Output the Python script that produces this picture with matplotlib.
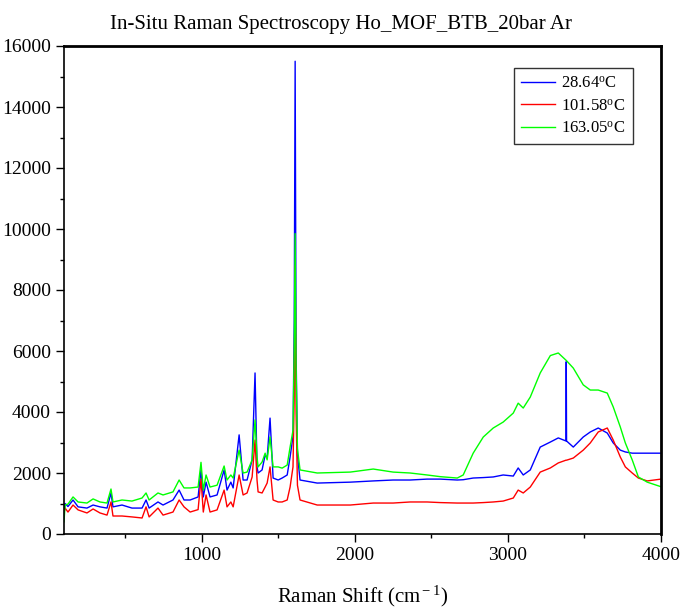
import numpy as np
import matplotlib
matplotlib.use('Agg')
import matplotlib.pyplot as plt
from matplotlib.ticker import MultipleLocator

plt.rcParams['font.family'] = ['Liberation Serif', 'DejaVu Serif']
plt.rcParams['mathtext.fontset'] = 'custom'
plt.rcParams['mathtext.rm'] = 'Liberation Serif'
plt.rcParams['mathtext.it'] = 'Liberation Serif:italic'

# Raman shift (cm-1)
shift = [100, 107, 126, 159, 192, 250, 290, 335, 381, 407, 420, 479, 544, 610,
         636, 656, 714, 747, 812, 852, 884, 924, 976, 995, 1010, 1028, 1054,
         1100, 1146, 1165, 1190, 1205, 1244, 1270, 1296, 1329, 1348, 1361,
         1368, 1394, 1414, 1427, 1446, 1466, 1499, 1525, 1558, 1577, 1596,
         1604, 1610, 1616, 1625, 1642, 1754, 1970, 2120, 2250, 2361, 2472,
         2558, 2669, 2708, 2773, 2839, 2904, 2969, 3035, 3067, 3100, 3146,
         3211, 3277, 3329, 3379, 3381, 3383, 3427, 3492, 3538, 3590, 3649,
         3688, 3734, 3767, 3812, 3852, 3910, 4000]

t_28 = [650, 1000, 900, 1115, 890, 850, 950, 890, 850, 1345, 890, 950, 850, 850,
        1115, 850, 1050, 950, 1115, 1440, 1115, 1115, 1215, 2100, 1215, 1700, 1215,
        1280, 2100, 1440, 1700, 1510, 3250, 1770, 1770, 2430, 5280, 2200,
        2000, 2100, 2590, 2490, 3800, 1835, 1770, 1835, 1935, 2525, 3200,
        7000, 15500, 6000, 2600, 1770, 1670, 1700, 1740, 1770, 1770, 1800,
        1800, 1770, 1780, 1835, 1850, 1870, 1935, 1900, 2165, 1935, 2100,
        2850, 3015, 3150, 3050, 5650, 3050, 2850, 3180, 3345, 3475, 3310,
        2985, 2750, 2690, 2650, 2650, 2650, 2650]

t_101 = [700, 850, 720, 950, 790, 690, 820, 690, 620, 1050, 590, 590, 560, 525,
         890, 560, 850, 620, 720, 1115, 890, 720, 800, 1800, 720, 1280, 720,
         790, 1440, 890, 1050, 890, 1935, 1280, 1345, 1870, 3080, 1770,
         1380, 1345, 1540, 1670, 2200, 1115, 1050, 1050, 1115, 1540, 2200,
         4500, 8800, 4000, 1600, 1115, 950, 950, 1015, 1015, 1050, 1050,
         1030, 1015, 1015, 1015, 1030, 1050, 1080, 1180, 1440, 1345, 1540,
         2030, 2165, 2330, 2420, 2420, 2420, 2490, 2750, 2985, 3345, 3475,
         3080, 2525, 2200, 2000, 1835, 1740, 1800]

t_163 = [400, 950, 980, 1215, 1050, 1015, 1150, 1050, 1015, 1475, 1050, 1115, 1080, 1180,
         1345, 1115, 1345, 1280, 1380, 1770, 1510, 1510, 1540, 2350, 1440, 1935, 1540,
         1600, 2230, 1770, 1935, 1835, 2750, 2000, 2030, 2430, 3740, 2525,
         2200, 2360, 2650, 2430, 3180, 2200, 2200, 2160, 2260, 2850, 3400,
         6000, 9850, 5500, 2800, 2100, 2000, 2030, 2130, 2030, 2000, 1935,
         1880, 1835, 1935, 2650, 3180, 3475, 3670, 3965, 4290, 4130, 4490,
         5280, 5850, 5935, 5700, 5690, 5680, 5440, 4890, 4720, 4720, 4620,
         4165, 3510, 2985, 2430, 1870, 1700, 1550]

fig = plt.figure(figsize=(6.83, 6.08), dpi=100)
ax = fig.add_axes([64/683, 74/608, 597/683, 488/608])

ax.plot(shift, t_28, color='#0000ff', lw=1.0, label=r'28.64$^{\rm o}$C')
ax.plot(shift, t_101, color='#ff0000', lw=1.0, label=r'101.58$^{\rm o}$C')
ax.plot(shift, t_163, color='#00ff00', lw=1.0, label=r'163.05$^{\rm o}$C')

ax.set_xlim(100, 4000)
ax.set_ylim(0, 16000)
ax.xaxis.set_major_locator(MultipleLocator(1000))
ax.xaxis.set_minor_locator(MultipleLocator(500))
ax.yaxis.set_major_locator(MultipleLocator(2000))
ax.yaxis.set_minor_locator(MultipleLocator(1000))
ax.tick_params(which='major', direction='out', length=6, width=1, labelsize=14)
ax.tick_params(which='minor', direction='out', length=3, width=1)
for s in ax.spines.values():
    s.set_linewidth(1.2)
ax.spines['top'].set_linewidth(2)
ax.spines['right'].set_linewidth(2)

ax.set_xlabel(r'Raman Shift (cm$^{\rm -1}$)', fontsize=15, labelpad=14)
fig.text(0.5, 1 - 25/608, 'In-Situ Raman Spectroscopy Ho_MOF_BTB_20bar Ar',
         ha='center', va='center', fontsize=15)

leg = ax.legend(loc='upper right', bbox_to_anchor=(0.953, 0.955), fontsize=12,
                frameon=True, fancybox=False, handlelength=2.0,
                handletextpad=0.4, borderpad=0.45, labelspacing=0.4,
                borderaxespad=0)
leg.get_frame().set_edgecolor('black')
leg.get_frame().set_linewidth(1.0)

fig.savefig('out.png', dpi=100)
